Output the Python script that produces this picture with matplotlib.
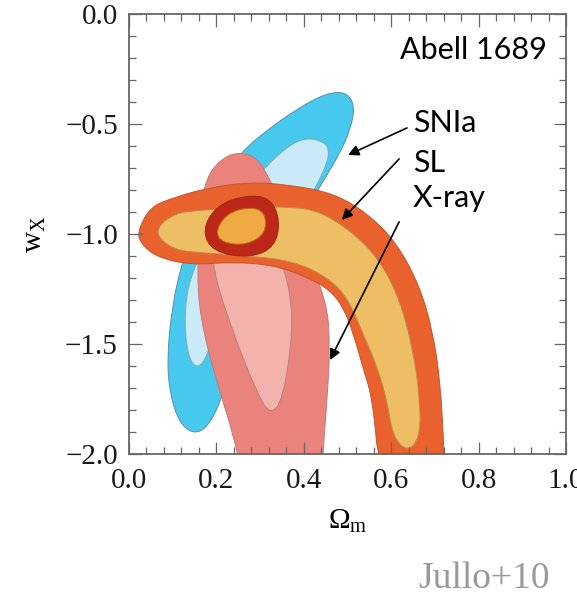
import numpy as np
import matplotlib
matplotlib.use("Agg")
import matplotlib.pyplot as plt
from matplotlib.path import Path
from matplotlib.patches import PathPatch
from matplotlib.ticker import MultipleLocator

plt.rcParams['font.family'] = ['Liberation Serif', 'DejaVu Serif']
plt.rcParams['mathtext.fontset'] = 'custom'
plt.rcParams['mathtext.rm'] = 'Liberation Serif'
plt.rcParams['mathtext.it'] = 'Liberation Serif:italic'

# confidence contours, (Omega_m, w_X) outline points
snia_outer = [(0.499, -0.355), (0.517, -0.423), (0.506, -0.527), (0.483, -0.632),
              (0.432, -0.800), (0.380, -0.982), (0.311, -1.255), (0.254, -1.482),
              (0.224, -1.677), (0.192, -1.845), (0.156, -1.914), (0.117, -1.868),
              (0.094, -1.732), (0.087, -1.573), (0.098, -1.332), (0.124, -1.105),
              (0.174, -0.845), (0.254, -0.632), (0.316, -0.527), (0.391, -0.423),
              (0.453, -0.359)]
snia_inner = [(0.398, -0.564), (0.437, -0.573), (0.460, -0.609), (0.449, -0.709),
              (0.391, -0.914), (0.288, -1.186), (0.197, -1.391), (0.181, -1.550),
              (0.156, -1.618), (0.133, -1.550), (0.126, -1.345), (0.144, -1.164),
              (0.220, -0.868), (0.307, -0.709), (0.352, -0.618)]
xray_outer = [(0.247, -0.627), (0.293, -0.650), (0.323, -0.755), (0.391, -1.027),
              (0.453, -1.300), (0.460, -1.527), (0.453, -1.755), (0.444, -1.982),
              (0.442, -2.118), (0.261, -2.118), (0.238, -1.905), (0.201, -1.677),
              (0.162, -1.377), (0.156, -1.150), (0.162, -0.891), (0.178, -0.741),
              (0.208, -0.664)]
xray_inner = [(0.334, -1.050), (0.368, -1.241), (0.375, -1.450), (0.352, -1.755),
              (0.323, -1.823), (0.293, -1.723), (0.238, -1.450), (0.190, -1.155),
              (0.197, -1.027), (0.254, -0.959)]
sl_outer = [(0.018, -0.995), (0.048, -0.877), (0.101, -0.836), (0.178, -0.791),
            (0.277, -0.764), (0.368, -0.777), (0.467, -0.814), (0.545, -0.905),
            (0.613, -1.041), (0.666, -1.241), (0.696, -1.450), (0.712, -1.677),
            (0.719, -1.905), (0.723, -2.118), (0.574, -2.118), (0.558, -1.755),
            (0.535, -1.605), (0.513, -1.450), (0.490, -1.332), (0.460, -1.255),
            (0.407, -1.195), (0.330, -1.141), (0.238, -1.127), (0.140, -1.141),
            (0.064, -1.105), (0.030, -1.050)]
sl_inner = [(0.055, -0.991), (0.101, -0.905), (0.169, -0.891), (0.277, -0.877),
            (0.362, -0.877), (0.430, -0.891), (0.506, -0.982), (0.574, -1.118),
            (0.620, -1.300), (0.650, -1.527), (0.666, -1.755), (0.666, -1.923),
            (0.638, -1.991), (0.604, -1.923), (0.590, -1.755), (0.568, -1.605),
            (0.535, -1.450), (0.499, -1.286), (0.453, -1.195), (0.375, -1.123),
            (0.277, -1.100), (0.169, -1.086), (0.101, -1.073)]
joint_outer = [(0.167, -0.982), (0.201, -0.868), (0.270, -0.823), (0.323, -0.836),
               (0.346, -0.936), (0.334, -1.059), (0.277, -1.109), (0.192, -1.082)]
joint_inner = [(0.197, -0.991), (0.224, -0.905), (0.277, -0.877), (0.311, -0.900),
               (0.314, -0.995), (0.270, -1.050), (0.215, -1.041)]

labels = ['SNIa', 'SL', 'X-ray']
label_y = [-0.495, -0.677, -0.836]
arrow_tail = [(0.636, -0.518), (0.618, -0.659), (0.618, -0.945)]
arrow_head = [(0.501, -0.641), (0.487, -0.936), (0.460, -1.573)]

xticks = [0.0, 0.2, 0.4, 0.6, 0.8, 1.0]
yticks = [0.0, -0.5, -1.0, -1.5, -2.0]


def closed_curve(pts):
    # quadratic bezier through the midpoints, the given points act as controls
    pts = np.asarray(pts, dtype=float)
    mids = (pts + np.roll(pts, -1, axis=0)) / 2.0
    verts = [mids[-1]]
    codes = [Path.MOVETO]
    for p, m in zip(pts, mids):
        verts += [p, m]
        codes += [Path.CURVE3, Path.CURVE3]
    verts.append(mids[-1])
    codes.append(Path.CLOSEPOLY)
    return Path(verts, codes)


def add_region(ax, pts, face, edge, lw=0.7):
    ax.add_patch(PathPatch(closed_curve(pts), facecolor=face, edgecolor=edge, lw=lw))


fig = plt.figure(figsize=(5.77, 5.98), dpi=100)
ax = fig.add_axes([0.2236, 0.2408, 0.7574, 0.7358])

add_region(ax, snia_outer, '#47C9EF', '#5f8fa0')
add_region(ax, snia_inner, '#C9EAF6', '#7fa9b8')
add_region(ax, xray_outer, '#EB837D', '#c07a74')
add_region(ax, xray_inner, '#F3B3AC', '#b98079')
add_region(ax, sl_outer, '#E9612D', '#c5552c')
add_region(ax, sl_inner, '#EDBE63', '#c08a4a')
add_region(ax, joint_outer, '#BC2718', '#a02416')
add_region(ax, joint_inner, '#F0AA43', '#c0701a')

for lab, ly, tail, head in zip(labels, label_y, arrow_tail, arrow_head):
    ax.text(0.650, ly, lab, family='Lato', fontsize=22, ha='left', va='center')
    ax.annotate('', xy=head, xytext=tail,
                arrowprops=dict(arrowstyle='-|>', color='black', lw=1.2,
                                mutation_scale=16, shrinkA=0, shrinkB=0))

ax.text(0.957, -0.164, 'Abell 1689', family='Lato', fontsize=22,
        ha='right', va='center')

ax.set_xlim(0, 1)
ax.set_ylim(-2, 0)
ax.set_xticks(xticks)
ax.set_yticks(yticks)
ax.set_xticklabels(['%.1f' % v for v in xticks])
ax.set_yticklabels(['%.1f' % v if v == 0 else '\u2212%.1f' % abs(v) for v in yticks])
ax.xaxis.set_minor_locator(MultipleLocator(0.04))
ax.yaxis.set_minor_locator(MultipleLocator(0.1))
ax.tick_params(which='both', direction='in', top=True, right=True,
               color='#666666', width=0.9, labelsize=21, labelcolor='#1a1a1a')
ax.tick_params(which='major', length=9)
ax.tick_params(which='minor', length=5)
ax.tick_params(axis='x', pad=10)
ax.tick_params(axis='y', pad=8)
for s in ax.spines.values():
    s.set_color('#666666')
    s.set_linewidth(1.3)

ax.set_xlabel(r'$\Omega_{\rm m}$', fontsize=21, va='top')
ax.xaxis.set_label_coords(0.5, -0.123)
ax.set_ylabel(r'$\rm w_X$', fontsize=21)
ax.yaxis.set_label_coords(-0.185, 0.5)

fig.text(0.953, 0.017, 'Jullo+10', fontsize=27, color='#999999',
         ha='right', va='baseline')

fig.savefig('out.png', dpi=100)
